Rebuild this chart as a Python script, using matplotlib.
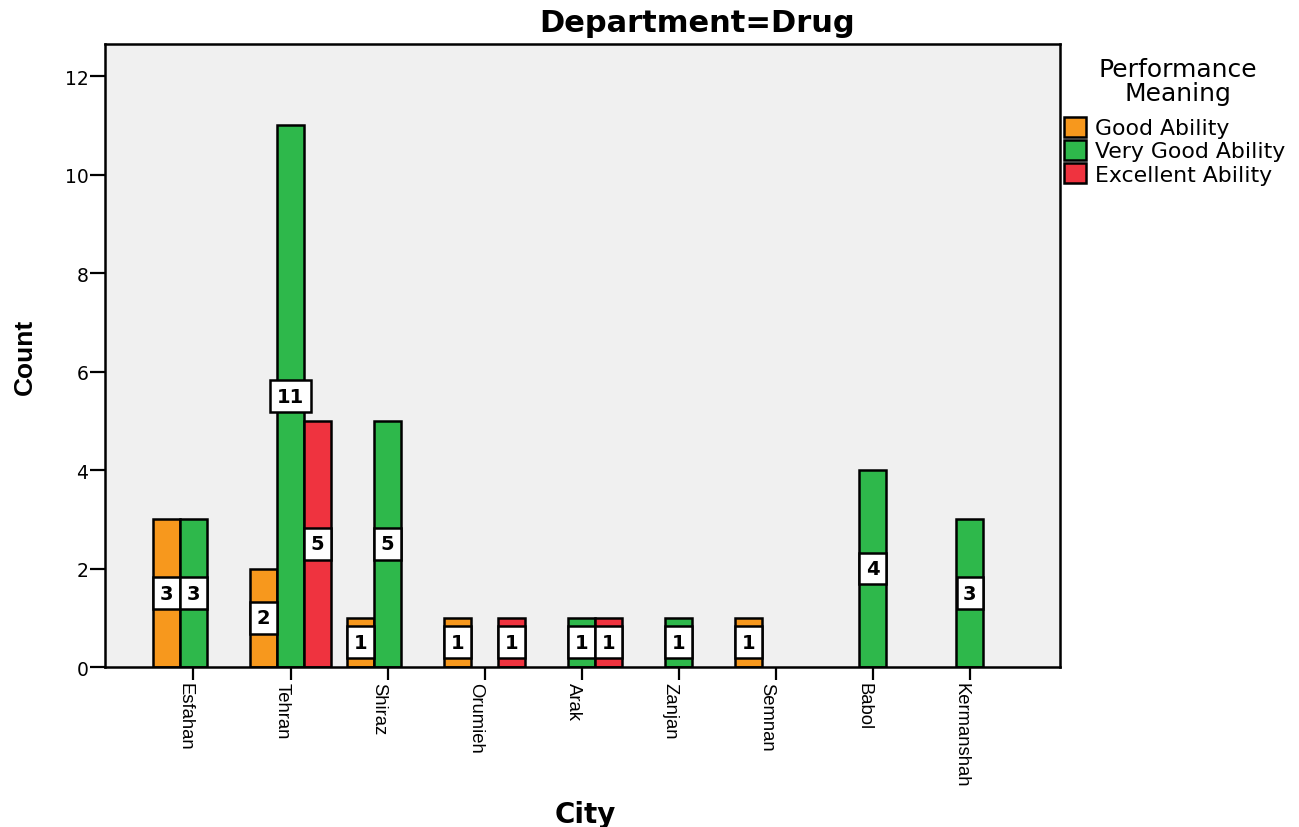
import numpy as np
import matplotlib
matplotlib.use("Agg")
import matplotlib.pyplot as plt
from matplotlib.patches import Patch

# Counts per city for each performance group
cities = ["Esfahan", "Tehran", "Shiraz", "Orumieh", "Arak",
          "Zanjan", "Semnan", "Babol", "Kermanshah"]
good = [3, 2, 1, 1, 0, 0, 1, 0, 0]
very_good = [3, 11, 5, 0, 1, 1, 0, 4, 3]
excellent = [0, 5, 0, 1, 1, 0, 0, 0, 0]

groups = ["Good Ability", "Very Good Ability", "Excellent Ability"]
colors = ["#F7981D", "#2EB84B", "#EF333F"]

W, H = 1299, 828
fig = plt.figure(figsize=(W / 100, H / 100), dpi=100)
ax = fig.add_axes([105 / W, 1 - 668 / H, (1060 - 105) / W, (668 - 45) / H])
ax.set_facecolor("#F0F0F0")

x = np.arange(len(cities))
w = 0.278
for k, (vals, col) in enumerate(zip([good, very_good, excellent], colors)):
    offs = (k - 1) * w
    for xi, v in zip(x, vals):
        if v == 0:
            continue
        ax.bar(xi + offs, v, width=w, color=col, edgecolor="black",
               linewidth=1.8, zorder=2)
        ax.text(xi + offs, v / 2, str(v), ha="center", va="center",
                fontsize=14, fontweight="bold", family="DejaVu Sans",
                zorder=4,
                bbox=dict(boxstyle="square,pad=0.33", fc="white",
                          ec="black", lw=1.8))

ax.set_xlim(-0.912, 8.93)
ax.set_ylim(0, 12.65)
ax.set_yticks([0, 2, 4, 6, 8, 10, 12])
ax.set_xticks(x)
ax.set_xticklabels(cities, rotation=-90, ha="right", va="top",
                   fontsize=13.3, family="Liberation Sans")
for lab in ax.get_yticklabels():
    lab.set_family("DejaVu Sans")
    lab.set_fontsize(13.5)

ax.tick_params(axis="x", length=9, width=1.6, pad=2, color="black")
ax.tick_params(axis="y", length=11, width=1.6, pad=1, color="black")
for sp in ax.spines.values():
    sp.set_linewidth(1.8)
    sp.set_color("black")

fig.text(697 / W, 1 - 24 / H, "Department=Drug", ha="center", va="center",
         fontsize=22, fontweight="bold", family="DejaVu Sans")
fig.text(25 / W, 1 - 357 / H, "Count", ha="center", va="center",
         rotation=90, fontsize=19, fontweight="bold",
         family="Liberation Sans")
fig.text(585 / W, 1 - 815 / H, "City", ha="center", va="center",
         fontsize=20, fontweight="bold", family="DejaVu Sans")

# legend title drawn separately so the two lines stay centred
fig.text(1178 / W, 1 - 82 / H, "Performance\nMeaning", ha="center",
         va="center", multialignment="center", linespacing=0.95,
         fontsize=18, family="DejaVu Sans")
handles = [Patch(facecolor=c, edgecolor="black", linewidth=1.8) for c in colors]
fig.legend(handles, groups, loc="upper left",
           bbox_to_anchor=(1064 / W, 1 - 118 / H), frameon=False,
           prop={"family": "DejaVu Sans", "size": 15.8},
           handlelength=1.0, handleheight=1.0, handletextpad=0.4,
           labelspacing=0.08, borderpad=0, borderaxespad=0)

fig.savefig("out.png", dpi=100)
